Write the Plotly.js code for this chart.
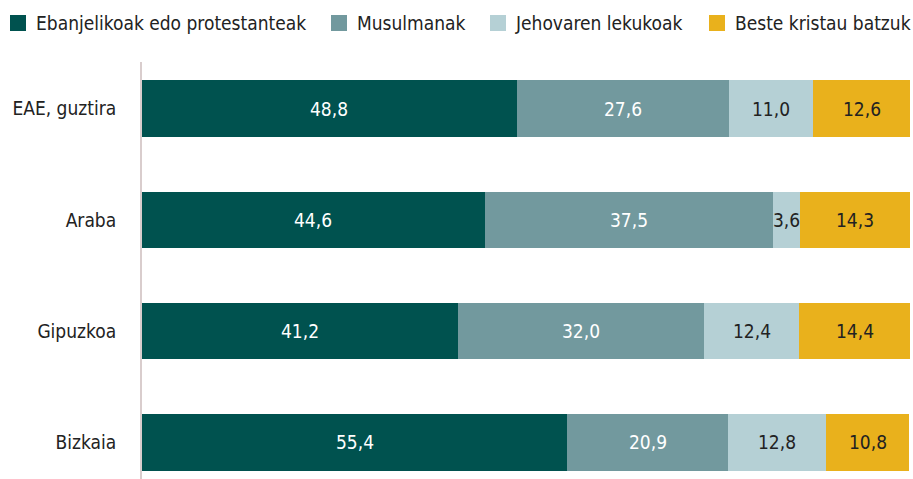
<!DOCTYPE html>
<html><head><meta charset="utf-8">
<script src="https://cdn.plot.ly/plotly-3.0.1.min.js"></script>
<style>html,body{margin:0;padding:0;background:#fff}</style>
</head><body>
<div id="chart" style="width:913px;height:479px"></div>
<script>
var categories = ["EAE, guztira", "Araba", "Gipuzkoa", "Bizkaia"];
var seriesNames = ["Ebanjelikoak edo protestanteak", "Musulmanak", "Jehovaren lekukoak", "Beste kristau batzuk"];
var ebanjelikoak = [48.8, 44.6, 41.2, 55.4];
var musulmanak = [27.6, 37.5, 32.0, 20.9];
var jehovaren = [11.0, 3.6, 12.4, 12.8];
var beste = [12.6, 14.3, 14.4, 10.8];
var seriesValues = [ebanjelikoak, musulmanak, jehovaren, beste];
var colors = ["#00524f", "#72999e", "#b5d0d5", "#e9b11c"];
var textColors = ["#ffffff", "#ffffff", "#222222", "#222222"];
var FONT = "'Liberation Sans Narrow', 'DejaVu Sans Condensed', 'Roboto Condensed', sans-serif";

// plot-area geometry (pixels) used to place the hand-made legend
var W = 913, H = 479, ML = 142, MR = 3, MT = 62, MB = 0;
var PW = W - ML - MR, PH = H - MT - MB;
function px2x(p){ return (p - ML) / PW; }
function py2y(p){ return (H - MB - p) / PH; }
var legendSquareX = [10, 331, 490, 709];
var legendTextX = [34, 355, 513, 733];

var traces = [];
var annotations = [];
var shapes = [];
var cum = categories.map(function(){ return 0; });
seriesValues.forEach(function(vals, i){
  traces.push({
    type: "bar", orientation: "h", name: seriesNames[i],
    x: vals, y: categories,
    marker: {color: colors[i], line: {width: 0}},
    width: 0.51, hoverinfo: "skip", showlegend: false
  });
  vals.forEach(function(v, j){
    annotations.push({
      x: cum[j] + v / 2, y: categories[j], xref: "x", yref: "y",
      text: v.toFixed(1).replace(".", ","), showarrow: false,
      xanchor: "center", yanchor: "middle",
      font: {family: FONT, size: 19, color: textColors[i]}
    });
    cum[j] += v;
  });
  shapes.push({
    type: "rect", xref: "paper", yref: "paper",
    x0: px2x(legendSquareX[i]), x1: px2x(legendSquareX[i] + 16),
    y0: py2y(15), y1: py2y(31),
    fillcolor: colors[i], line: {width: 0}
  });
  annotations.push({
    x: px2x(legendTextX[i]), y: py2y(23), xref: "paper", yref: "paper",
    text: seriesNames[i], showarrow: false, xanchor: "left", yanchor: "middle",
    font: {family: FONT, size: 19, color: "#222"}
  });
});

var layout = {
  barmode: "stack",
  separators: ",.",
  margin: {l: ML, r: MR, t: MT, b: MB},
  paper_bgcolor: "#fff", plot_bgcolor: "#fff",
  font: {family: FONT, size: 19, color: "#222"},
  xaxis: {range: [0, 100], visible: false, fixedrange: true},
  yaxis: {
    type: "category", categoryorder: "array", categoryarray: categories,
    range: [3.33, -0.42], showgrid: false, zeroline: false,
    showline: true, linecolor: "#d9cdcd", linewidth: 2,
    ticks: "", ticklabelstandoff: 20,
    tickfont: {family: FONT, size: 19, color: "#222"}
  },
  showlegend: false,
  annotations: annotations,
  shapes: shapes
};
Plotly.newPlot("chart", traces, layout, {displayModeBar: false, staticPlot: true});
</script>
</body></html>
